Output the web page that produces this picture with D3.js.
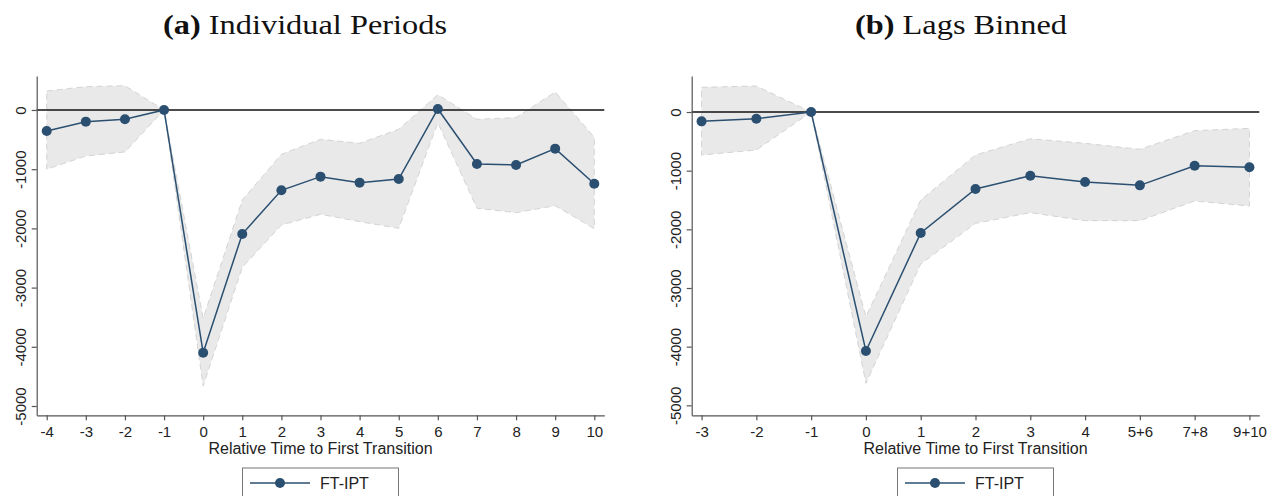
<!DOCTYPE html>
<html>
<head>
<meta charset="utf-8">
<script src="https://cdn.jsdelivr.net/npm/d3@7"></script>
<style>
  body { margin: 0; background: #fff; }
  svg { display: block; }
  .axis path, .axis line { stroke: #555; stroke-width: 1.2; }
  .axis .tick text { font-family: "Liberation Sans", Arial, sans-serif; font-size: 15px; fill: #222; }
  .axis-title { font-family: "Liberation Sans", Arial, sans-serif; font-size: 16px; fill: #222; }
  .panel-title { font-family: "Liberation Serif", "Times New Roman", serif; font-size: 28px; fill: #111; }
  .legend-text { font-family: "Liberation Sans", Arial, sans-serif; font-size: 16px; fill: #222; }
</style>
</head>
<body>
<svg id="chart" width="1277" height="496"></svg>
<script>
// panel (a): individual periods
const periodsA = ['-4', '-3', '-2', '-1', '0', '1', '2', '3', '4', '5', '6', '7', '8', '9', '10'];
const coefA  = [-355, -197, -158, 0, -4099, -2095, -1357, -1126, -1227, -1166, 17, -912, -929, -653, -1245];
const upperA = [321, 394, 410, 0, -3519, -1520, -749, -495, -563, -327, 259, -158, -129, 304, -462];
const lowerA = [-1002, -777, -709, 0, -4662, -2658, -1943, -1762, -1886, -1999, -214, -1661, -1734, -1616, -2005];

// panel (b): lags binned
const periodsB = ['-3', '-2', '-1', '0', '1', '2', '3', '4', '5+6', '7+8', '9+10'];
const coefB  = [-159, -114, 0, -4074, -2062, -1312, -1085, -1193, -1250, -915, -943];
const upperB = [421, 443, 0, -3489, -1500, -733, -455, -534, -636, -318, -278];
const lowerB = [-733, -648, 0, -4625, -2591, -1898, -1716, -1852, -1852, -1517, -1602];

const yTicks = [0, -1000, -2000, -3000, -4000, -5000];
const seriesName = 'FT-IPT';
const xTitle = 'Relative Time to First Transition';

const lineColor = '#2b4f70';

class EventPlot {
  constructor(_config, _data) {
    this.config = _config;
    this.data = _data;
    this.initVis();
  }

  initVis() {
    let vis = this;
    const c = vis.config;

    vis.svg = d3.select('#chart').append('g');

    vis.xScale = d3.scalePoint()
      .domain(vis.data.map(d => d.label))
      .range([c.left, c.right])
      .padding(c.pad);

    vis.yScale = d3.scaleLinear()
      .domain(c.yDomain)
      .range([c.bottom, c.top]);

    // confidence band
    const area = d3.area()
      .x(d => vis.xScale(d.label))
      .y0(d => vis.yScale(d.lower))
      .y1(d => vis.yScale(d.upper));

    vis.svg.append('path')
      .datum(vis.data)
      .attr('d', area)
      .attr('fill', '#e9e9e9')
      .attr('stroke', '#d4d4d4')
      .attr('stroke-width', 1)
      .attr('stroke-dasharray', '6,4');

    // zero reference line
    vis.svg.append('line')
      .attr('x1', c.left)
      .attr('x2', c.right)
      .attr('y1', vis.yScale(0))
      .attr('y2', vis.yScale(0))
      .attr('stroke', '#111')
      .attr('stroke-width', 1.6);

    // axes
    const xAxis = d3.axisBottom(vis.xScale).tickSize(5).tickSizeOuter(0).tickPadding(6);
    vis.svg.append('g')
      .attr('class', 'axis')
      .attr('transform', `translate(0,${c.bottom})`)
      .call(xAxis);

    const yAxis = d3.axisLeft(vis.yScale)
      .tickValues(yTicks)
      .tickFormat(d => String(d))
      .tickSize(5)
      .tickSizeOuter(0);
    const yG = vis.svg.append('g')
      .attr('class', 'axis')
      .attr('transform', `translate(${c.left},0)`)
      .call(yAxis);
    yG.selectAll('.tick text')
      .attr('x', 0)
      .attr('y', 0)
      .attr('dy', 0)
      .attr('text-anchor', 'middle')
      .attr('transform', 'translate(-11,0) rotate(-90)');

    vis.svg.append('text')
      .attr('class', 'axis-title')
      .attr('x', (c.left + c.right) / 2)
      .attr('y', 454)
      .attr('text-anchor', 'middle')
      .text(xTitle);

    // estimates
    const line = d3.line()
      .x(d => vis.xScale(d.label))
      .y(d => vis.yScale(d.coef));

    vis.svg.append('path')
      .datum(vis.data)
      .attr('d', line)
      .attr('fill', 'none')
      .attr('stroke', lineColor)
      .attr('stroke-width', 1.5);

    vis.svg.selectAll('.dot')
      .data(vis.data)
      .enter()
      .append('circle')
      .attr('class', 'dot')
      .attr('cx', d => vis.xScale(d.label))
      .attr('cy', d => vis.yScale(d.coef))
      .attr('r', 5)
      .attr('fill', lineColor);

    // panel title (stretched to the width of the original serif title)
    const title = vis.svg.append('text')
      .attr('class', 'panel-title')
      .attr('x', c.titleX - c.titleW / 2)
      .attr('y', 34)
      .attr('textLength', c.titleW)
      .attr('lengthAdjust', 'spacingAndGlyphs');
    title.append('tspan').attr('font-weight', 'bold').text(c.tag);
    title.append('tspan').text(' ' + c.title);

    // legend
    const mid = (c.left + c.right) / 2;
    const lg = vis.svg.append('g').attr('transform', `translate(${mid - 78},468)`);
    lg.append('rect')
      .attr('width', 156)
      .attr('height', 60)
      .attr('fill', '#fff')
      .attr('stroke', '#777')
      .attr('stroke-width', 1);
    lg.append('line')
      .attr('x1', 7.5).attr('x2', 67.5)
      .attr('y1', 15).attr('y2', 15)
      .attr('stroke', lineColor)
      .attr('stroke-width', 1.5);
    lg.append('circle')
      .attr('cx', 37.5).attr('cy', 15).attr('r', 5)
      .attr('fill', lineColor);
    lg.append('text')
      .attr('class', 'legend-text')
      .attr('x', 77.5)
      .attr('y', 20.5)
      .text(seriesName);
  }
}

const toRows = (labels, coef, upper, lower) =>
  labels.map((l, i) => ({ label: l, coef: coef[i], upper: upper[i], lower: lower[i] }));

new EventPlot({
  left: 36.7, right: 604.3, top: 76, bottom: 415.3, pad: 0.256,
  yDomain: [-5157, 574], tag: '(a)', title: 'Individual Periods', titleX: 305, titleW: 284
}, toRows(periodsA, coefA, upperA, lowerA));

new EventPlot({
  left: 691.7, right: 1259.3, top: 76, bottom: 415.3, pad: 0.18,
  yDomain: [-5170, 614], tag: '(b)', title: 'Lags Binned', titleX: 961, titleW: 212
}, toRows(periodsB, coefB, upperB, lowerB));
</script>
</body>
</html>
